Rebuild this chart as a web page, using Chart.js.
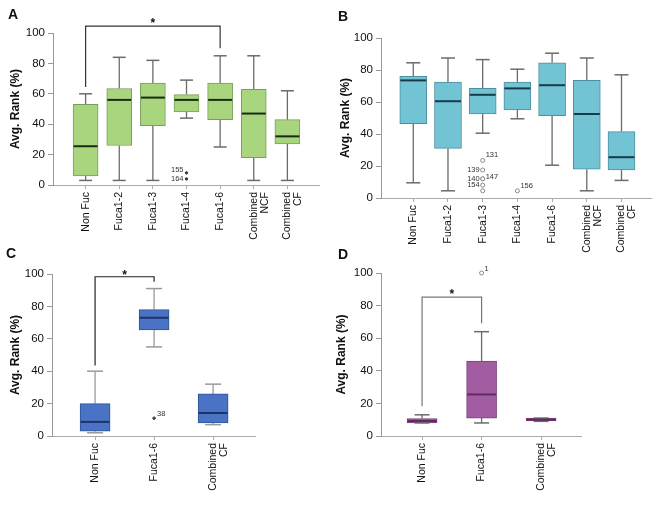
<!DOCTYPE html>
<html>
<head>
<meta charset="utf-8">
<script src="https://cdn.jsdelivr.net/npm/chart.js@4.4.1/dist/chart.umd.min.js"></script>
<style>
  body { margin: 0; background: #fff; width: 666px; height: 507px; position: relative; overflow: hidden;
         font-family: "Liberation Sans", Arial, sans-serif; }
  canvas { position: absolute; }
  .tag { position: absolute; font-weight: bold; font-size: 14px; color: #111; line-height: 14px; }
</style>
</head>
<body>
<canvas id="chartA" width="333" height="255" style="left:0;top:0"></canvas>
<canvas id="chartB" width="333" height="262" style="left:333px;top:0"></canvas>
<canvas id="chartC" width="333" height="254" style="left:0;top:253px"></canvas>
<canvas id="chartD" width="333" height="254" style="left:333px;top:253px"></canvas>
<div class="tag" style="left:8px;top:7px">A</div>
<div class="tag" style="left:338px;top:9px">B</div>
<div class="tag" style="left:6px;top:246px">C</div>
<div class="tag" style="left:338px;top:247px">D</div>
<script>
const FONT = '"Liberation Sans", Arial, sans-serif';

// ---- panel A ----
const labelsA = ['Non Fuc', 'Fuca1-2', 'Fuca1-3', 'Fuca1-4', 'Fuca1-6', ['Combined', 'NCF'], ['Combined', 'CF']];
const lowA  = [3, 3, 3, 44, 25, 3, 3];
const q1A   = [6, 26, 39, 48, 43, 18, 27];
const medA  = [25.5, 56, 57.5, 56, 56, 47, 32];
const q3A   = [53, 63.5, 67, 59.5, 67, 63, 43];
const highA = [60, 84, 82, 69, 85, 85, 62];
const outCatA = [3, 3];
const outValA = [8, 4];
const outIdA  = ['155', '164'];
const bracketCatsA = [0, 4];
const bracketValsA = [64.5, 104.5, 90];

// ---- panel B ----
const labelsB = labelsA;
const lowB  = [9.5, 4.5, 40.5, 49.5, 20.5, 4.5, 11];
const q1B   = [46.5, 31, 52.5, 55, 51.5, 18, 17.5];
const medB  = [73.5, 60.5, 64.5, 68.5, 70.5, 52.5, 25.5];
const q3B   = [76, 72.5, 68.5, 72.5, 84.5, 73.5, 41.5];
const highB = [84.5, 87.5, 86.5, 80.5, 90.5, 87.5, 77];
const outCatB = [2, 2, 2, 2, 2, 2, 3];
const outValB = [23.5, 17.5, 12, 12, 8, 4.5, 4.5];
const outIdB  = ['131', '139', '140', '147', '154', '', '156'];

// ---- panel C ----
const labelsC = ['Non Fuc', 'Fuca1-6', ['Combined', 'CF']];
const lowC  = [2, 55, 7];
const q1C   = [3, 65.5, 8];
const medC  = [8.7, 73, 14.2];
const q3C   = [20, 78, 26];
const highC = [40, 91, 32];
const outCatC = [1];
const outValC = [11];
const outIdC  = ['38'];
const bracketCatsC = [0, 1];
const bracketValsC = [43.5, 98.3, 95.2];

// ---- panel D ----
const labelsD = labelsC;
const lowD  = [8, 8, 9];
const q1D   = [8, 11, 9.4];
const medD  = [9.2, 25.5, 10];
const q3D   = [10.7, 46, 11];
const highD = [13, 64, 11];
const outCatD = [1];
const outValD = [100];
const outIdD  = ['1'];
const bracketCatsD = [0, 1];
const bracketValsD = [18.3, 85.2, 69.2];

// draws outlier ids and the significance star
const notes = {
  id: 'notes',
  afterDatasetsDraw(chart, args, o) {
    const { ctx, scales: { x, y } } = chart;
    ctx.save();
    ctx.fillStyle = '#333';
    ctx.font = '7.5px ' + FONT;
    ctx.textBaseline = 'middle';
    o.ids.forEach((t, i) => {
      if (!t) return;
      const [dx, dy] = o.offsets[i];
      ctx.textAlign = dx < 0 ? 'right' : 'left';
      ctx.fillText(t, x.getPixelForValue(o.cats[i]) + dx, y.getPixelForValue(o.vals[i]) + dy);
    });
    if (o.bracketCats) {
      ctx.fillStyle = '#111';
      ctx.font = 'bold 12px ' + FONT;
      ctx.textAlign = 'center';
      ctx.textBaseline = 'alphabetic';
      const cx = x.getPixelForValue((o.bracketCats[0] + o.bracketCats[1]) / 2);
      ctx.fillText('*', cx, y.getPixelForValue(o.bracketVals[1]) + o.starDy);
    }
    ctx.restore();
  }
};

function boxPanel(id, p) {
  const idx = p.labels.map((_, i) => i);
  const whiskers = [];
  idx.forEach(i => {
    whiskers.push({ x: i, y: p.low[i] }, { x: i, y: p.q1[i] }, { x: i, y: null },
                  { x: i, y: p.q3[i] }, { x: i, y: p.high[i] }, { x: i, y: null });
  });
  const datasets = [
    {
      type: 'line', data: whiskers, borderColor: p.whisker, borderWidth: 1.3,
      pointRadius: 0, spanGaps: false, order: 5
    },
    {
      type: 'bar', data: idx.map(i => ({ x: i, y: [p.q1[i], p.q3[i]] })),
      backgroundColor: p.fill, borderColor: p.edge, borderWidth: 1,
      borderSkipped: false, barThickness: p.boxW, grouped: false, order: 4
    },
    {
      type: 'line', showLine: false, order: 3,
      data: idx.flatMap(i => [{ x: i, y: p.low[i] }, { x: i, y: p.high[i] }]),
      pointStyle: 'line', pointRadius: p.capR, pointBorderColor: p.whisker, pointBorderWidth: 1.5
    },
    {
      type: 'line', showLine: false, order: 2,
      data: idx.map(i => ({ x: i, y: p.med[i] })),
      pointStyle: 'line', pointRadius: p.boxW / 2 - 0.5, pointBorderColor: p.medColor, pointBorderWidth: 2
    },
    {
      type: 'line', showLine: false, order: 1, clip: false,
      data: p.outCat.map((c, i) => ({ x: c, y: p.outVal[i] })),
      pointStyle: 'circle', pointRadius: p.outR,
      pointBackgroundColor: p.outFill, pointBorderColor: p.outEdge, pointBorderWidth: 1
    }
  ];
  if (p.bracketCats) {
    const [c0, c1] = p.bracketCats;
    const [v0, vTop, v1] = p.bracketVals;
    datasets.push({
      type: 'line', order: 0, clip: false,
      data: [{ x: c0, y: v0 }, { x: c0, y: vTop }, { x: c1, y: vTop }, { x: c1, y: v1 }],
      borderColor: p.bracketColor, borderWidth: 1.2, pointRadius: 0, tension: 0
    });
  }

  new Chart(document.getElementById(id), {
    type: 'bar',
    data: { datasets },
    options: {
      responsive: false,
      animation: false,
      events: [],
      layout: { padding: { top: p.padTop, right: p.padRight, left: 0, bottom: 0 } },
      plugins: {
        legend: { display: false },
        tooltip: { enabled: false },
        notes: {
          cats: p.outCat, vals: p.outVal, ids: p.outId, offsets: p.outOffsets,
          bracketCats: p.bracketCats, bracketVals: p.bracketVals, starDy: p.starDy
        }
      },
      scales: {
        x: {
          type: 'linear', min: p.xmin, max: p.xmax, offset: false,
          afterBuildTicks: s => { s.ticks = idx.map(i => ({ value: i })); },
          afterFit: s => { s.height = p.xH; },
          ticks: {
            callback: v => p.labels[v],
            autoSkip: false, minRotation: 90, maxRotation: 90,
            font: { family: FONT, size: 10.5, lineHeight: 1.05 }, color: '#111', padding: 3
          },
          grid: { drawOnChartArea: false, offset: false, tickLength: 4, color: '#aaa' },
          border: { color: '#aaa' }
        },
        y: {
          min: 0, max: 100,
          afterFit: s => { s.width = p.yW; },
          ticks: { stepSize: 20, font: { family: FONT, size: 11.5 }, color: '#111', padding: 3 },
          grid: { drawOnChartArea: false, tickLength: 5, color: '#999' },
          border: { color: '#999' },
          title: {
            display: true, text: 'Avg. Rank (%)', color: '#111',
            font: { family: FONT, size: 12, weight: 'bold' },
            padding: { top: p.titlePad, bottom: 0 }
          }
        }
      }
    },
    plugins: [notes]
  });
}

boxPanel('chartA', {
  labels: labelsA, low: lowA, q1: q1A, med: medA, q3: q3A, high: highA,
  outCat: outCatA, outVal: outValA, outId: outIdA, outOffsets: [[-3, -3], [-3, 0]],
  bracketCats: bracketCatsA, bracketVals: bracketValsA, starDy: 1,
  fill: '#a9d57f', edge: '#789f58', medColor: '#1b2a12', whisker: '#6b6b6b', bracketColor: '#333',
  outR: 1.2, outFill: '#333', outEdge: '#333',
  boxW: 25, capR: 6.5, xmin: -0.97, xmax: 6.94,
  yW: 53, padTop: 33, padRight: 11, xH: 70, titlePad: 8
});

boxPanel('chartB', {
  labels: labelsB, low: lowB, q1: q1B, med: medB, q3: q3B, high: highB,
  outCat: outCatB, outVal: outValB, outId: outIdB,
  outOffsets: [[3, -5], [-3, 0], [-3, 0], [3, -2], [-3, 0], [0, 0], [3, -5]],
  fill: '#72c3d4', edge: '#4e8fa0', medColor: '#173c48', whisker: '#6b6b6b',
  outR: 2, outFill: '#fff', outEdge: '#888',
  boxW: 27, capR: 7, xmin: -0.93, xmax: 6.85,
  yW: 48, padTop: 38, padRight: 10, xH: 64, titlePad: 5
});

boxPanel('chartC', {
  labels: labelsC, low: lowC, q1: q1C, med: medC, q3: q3C, high: highC,
  outCat: outCatC, outVal: outValC, outId: outIdC, outOffsets: [[3, -4]],
  bracketCats: bracketCatsC, bracketVals: bracketValsC, starDy: 2,
  fill: '#4a73c5', edge: '#2f5496', medColor: '#1d3468', whisker: '#9a9a9a', bracketColor: '#222',
  outR: 1.3, outFill: '#444', outEdge: '#444',
  boxW: 30, capR: 8, xmin: -0.73, xmax: 2.71,
  yW: 52, padTop: 21, padRight: 78, xH: 71, titlePad: 8
});

boxPanel('chartD', {
  labels: labelsD, low: lowD, q1: q1D, med: medD, q3: q3D, high: highD,
  outCat: outCatD, outVal: outValD, outId: outIdD, outOffsets: [[3, -4]],
  bracketCats: bracketCatsD, bracketVals: bracketValsD, starDy: 1,
  fill: '#a25da2', edge: '#7b3f7b', medColor: '#5e2d5e', whisker: '#6b6b6b', bracketColor: '#777',
  outR: 2, outFill: '#fff', outEdge: '#888',
  boxW: 30, capR: 7.5, xmin: -0.69, xmax: 2.67,
  yW: 48, padTop: 20, padRight: 85, xH: 71, titlePad: 1
});
</script>
</body>
</html>
